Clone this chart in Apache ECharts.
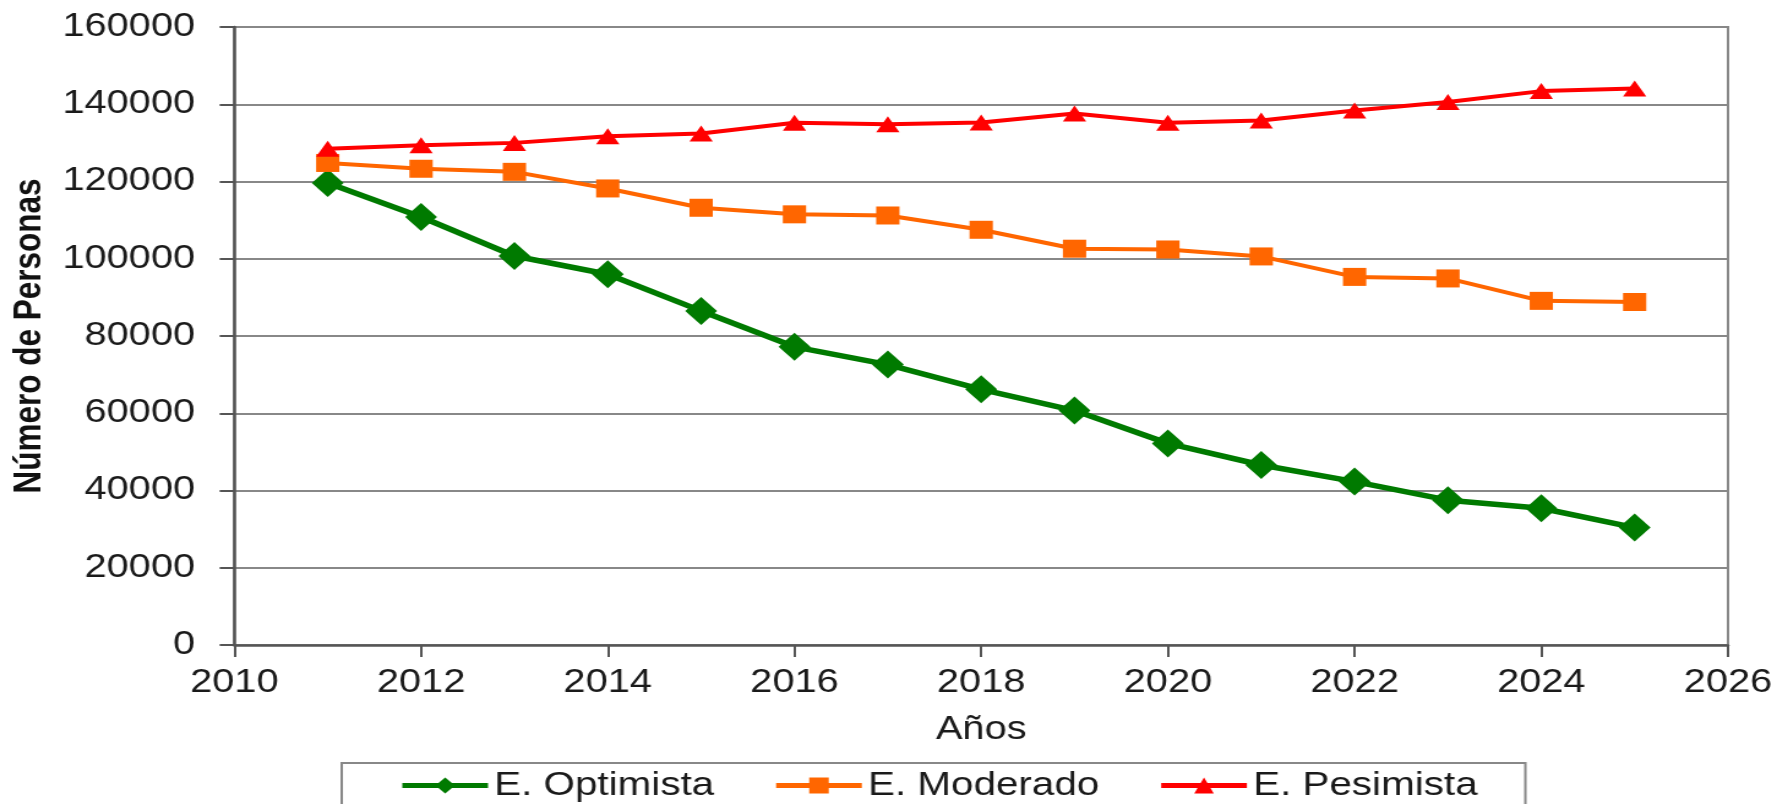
<!DOCTYPE html>
<html>
<head>
<meta charset="utf-8">
<script src="https://cdn.jsdelivr.net/npm/echarts@6/dist/echarts.min.js"></script>
<style>
html,body{margin:0;padding:0;background:#fff;overflow:hidden;}
#wrap{width:1451px;height:804px;transform:scaleX(1.22467);transform-origin:0 0;}
</style>
</head>
<body>
<div id="wrap"></div>
<script>
const years = [2011,2012,2013,2014,2015,2016,2017,2018,2019,2020,2021,2022,2023,2024,2025];
const optimista = [119600,110800,100700,96000,86500,77200,72600,66200,60700,52200,46600,42300,37500,35400,30400];
const moderado  = [124800,123300,122500,118200,113200,111500,111200,107500,102600,102400,100600,95300,94900,89100,88800];
const pesimista = [128500,129400,130000,131700,132400,135200,134800,135300,137600,135200,135800,138400,140600,143400,144100];
const seriesNames = ['E. Optimista','E. Moderado','E. Pesimista'];
const xTicks = [2010,2012,2014,2016,2018,2020,2022,2024,2026];
const yTicks = [0,20000,40000,60000,80000,100000,120000,140000,160000];

const pair = arr => years.map((y,i)=>[y,arr[i]]);
const FONT = '"Liberation Sans", Arial, sans-serif';
const chart = echarts.init(document.getElementById('wrap'), null, {renderer:'canvas'});
chart.setOption({
  animation:false,
  backgroundColor:'#fff',
  grid:{left:187,right:40,top:27,bottom:159,show:true,borderColor:'#888',borderWidth:2,backgroundColor:'transparent'},
  xAxis:{
    type:'value',min:xTicks[0],max:xTicks[xTicks.length-1],interval:2,
    name:'Años',nameLocation:'middle',nameGap:69,
    nameTextStyle:{fontFamily:FONT,fontSize:32.5,color:'#1a1a1a'},
    axisLine:{show:true,lineStyle:{color:'#555',width:2.5}},
    axisTick:{show:true,inside:false,length:12,lineStyle:{color:'#555',width:2}},
    axisLabel:{fontFamily:FONT,fontSize:32.5,color:'#1a1a1a',margin:22,formatter:v=>String(v)},
    splitLine:{show:false}
  },
  yAxis:{
    type:'value',min:yTicks[0],max:yTicks[yTicks.length-1],interval:20000,
    name:'Número de Personas',nameLocation:'middle',nameGap:146,nameRotate:90,
    nameTextStyle:{fontFamily:FONT,fontSize:31.5,fontWeight:'bold',color:'#111'},
    axisLine:{show:true,lineStyle:{color:'#555',width:2.5}},
    axisTick:{show:true,inside:false,length:12,lineStyle:{color:'#555',width:2}},
    axisLabel:{fontFamily:FONT,fontSize:32.5,color:'#1a1a1a',margin:32,formatter:v=>String(v)},
    splitLine:{show:true,lineStyle:{color:'#888',width:2}}
  },
  legend:{
    data:seriesNames,
    left:279,top:763,orient:'horizontal',
    padding:[6,39,6,47],itemGap:48,itemWidth:70,itemHeight:20,
    borderColor:'#888',borderWidth:2,
    lineStyle:{width:5},
    textStyle:{fontFamily:FONT,fontSize:33,color:'#1a1a1a'}
  },
  series:[
    {name:seriesNames[0],type:'line',data:pair(optimista),symbol:'diamond',symbolSize:[26,28],
     itemStyle:{color:'#007a00'},lineStyle:{color:'#007a00',width:5.5}},
    {name:seriesNames[1],type:'line',data:pair(moderado),symbol:'rect',symbolSize:[19,18],
     itemStyle:{color:'#ff6600'},lineStyle:{color:'#ff6600',width:4}},
    {name:seriesNames[2],type:'line',data:pair(pesimista),symbol:'triangle',symbolSize:[19,16],
     itemStyle:{color:'#ff0000'},lineStyle:{color:'#ff0000',width:4}}
  ]
});
</script>
</body>
</html>
